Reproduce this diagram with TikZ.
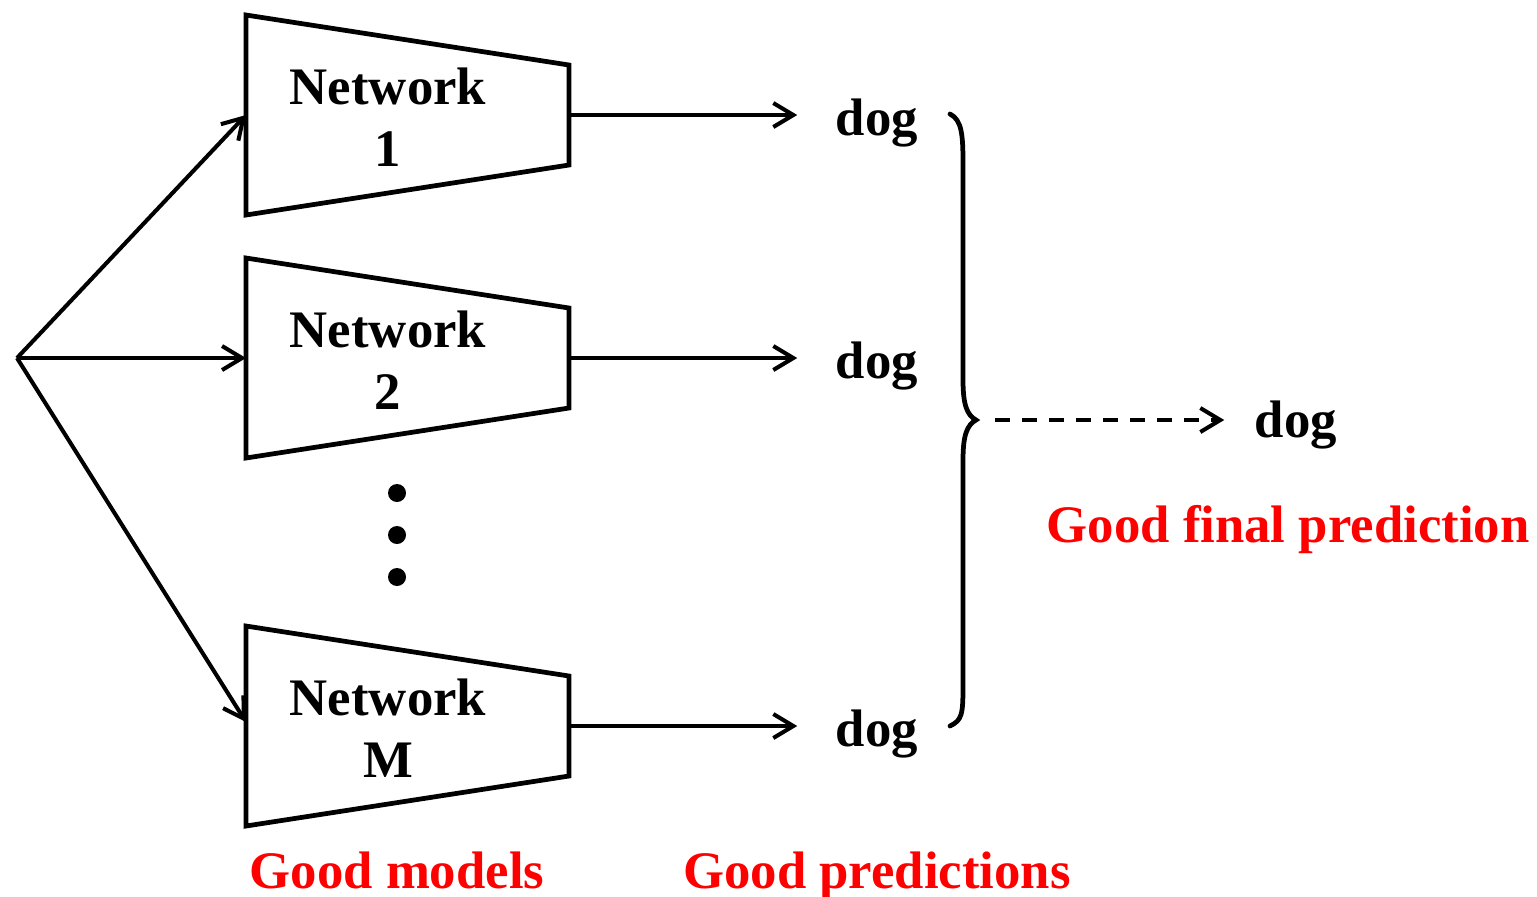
\documentclass[tikz,border=0pt]{standalone}
\usepackage{fontspec}
\setmainfont{Liberation Serif}
\usetikzlibrary{arrows.meta}
\tikzset{
  conn/.style={line width=1.15pt, -{Straight Barb[length=0.2cm,width=0.24cm,line width=1.15pt]}},
  netbox/.style={line width=1.35pt, line join=miter},
  nettext/.style={inner sep=0pt, align=center, anchor=north, font=\fontsize{15}{17.6}\selectfont\bfseries},
  word/.style={inner sep=0pt, anchor=base, font=\fontsize{15}{17.6}\selectfont\bfseries},
  redlabel/.style={word, text=red},
  bracestyle/.style={line width=1.35pt, line cap=round},
  dot/.style={circle, fill=black, inner sep=0pt, minimum size=0.18cm}
}
\begin{document}
\begin{tikzpicture}[x=0.01cm, y=-0.01cm]
  \useasboundingbox (0,0) rectangle (1537,896);

  % input point
  \coordinate (src) at (17,358);

  % the three networks drawn as trapezoids
  \foreach \n/\c/\lab in {1/115/1, 2/358/2, M/726/M} {
    \draw[netbox] (246,\c-100) -- (569,\c-50) -- (569,\c+50) -- (246,\c+100) -- cycle;
    \coordinate (in\n) at (246,\c);
    \coordinate (out\n) at (569,\c);
    \node[nettext] (net\n) at (388,\c-48) {Network\\\lab};
  }

  % dots between network 2 and network M
  \node[dot] (dot1) at (397,493) {};
  \node[dot] (dot2) at (397,535) {};
  \node[dot] (dot3) at (397,577) {};

  % predictions
  \node[word] (d1) at (877,135) {dog};
  \node[word] (d2) at (877,378) {dog};
  \node[word] (dM) at (877,746) {dog};
  \node[word] (fd) at (1296,437) {dog};

  % input to networks
  \draw[conn] (src) -- (in1);
  \draw[conn] (src) -- (in2);
  \draw[conn] (src) -- (246,722);

  % networks to predictions
  \draw[conn, shorten >=0.38cm] (out1) -- (out1 -| d1.west);
  \draw[conn, shorten >=0.38cm] (out2) -- (out2 -| d2.west);
  \draw[conn, shorten >=0.38cm] (outM) -- (outM -| dM.west);

  % brace gathering the predictions
  \coordinate (btop) at (950,114);
  \coordinate (bbot) at (950,726);
  \coordinate (btip) at (976,420);
  \draw[bracestyle] (btop) .. controls (962,120) and (963,135) .. (963,165)
    -- (963,380) .. controls (963,405) and (967,415) .. (btip)
    .. controls (967,425) and (963,435) .. (963,460)
    -- (963,685) .. controls (963,715) and (962,720) .. (bbot);

  % combined prediction
  \draw[conn, line width=1.35pt, dash pattern=on 0.15cm off 0.12cm, shorten <=0.19cm, shorten >=0.3cm]
    (btip) -- (btip -| fd.west);

  % captions
  \node[redlabel] (lm) at (397,888) {Good models};
  \node[redlabel] (lp) at (877,888) {Good predictions};
  \node[redlabel] (lf) at (1288,542) {Good final prediction};
\end{tikzpicture}
\end{document}
